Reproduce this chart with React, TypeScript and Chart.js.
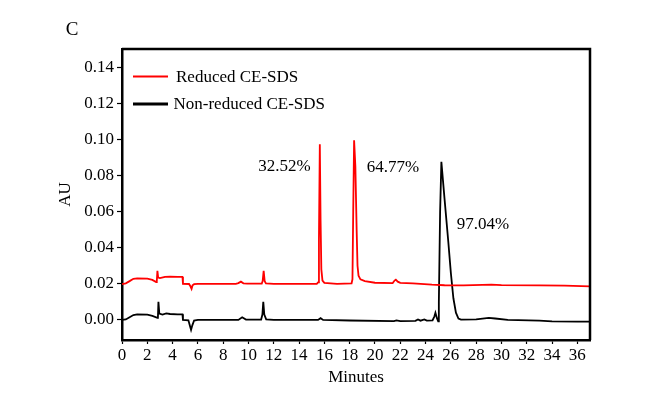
import React, { useEffect, useRef } from "react";
import { Chart, registerables } from "chart.js";

Chart.register(...registerables);

// ---- Data ----
const seriesNames = ["Reduced CE-SDS", "Non-reduced CE-SDS"];

const redTime = [
  0, 0.3, 0.6, 0.9, 1.2, 2.0, 2.4, 2.7, 2.75, 2.8, 2.86, 3.0, 3.4, 3.8, 4.4, 4.78,
  4.82, 5.3, 5.42, 5.5, 5.58, 5.7, 6.0, 9.0, 9.2, 9.4, 9.6, 9.9, 11.05, 11.12,
  11.2, 11.28, 11.38, 12.0, 15.4, 15.5, 15.57, 15.64, 15.7, 15.76, 15.85, 16.0,
  17.0, 18.15, 18.22, 18.28, 18.35, 18.45, 18.55, 18.62, 18.7, 18.85, 19.2, 20.0,
  21.4, 21.55, 21.65, 21.8, 22.0, 23.0, 24.5, 25.5, 27.0, 28.5, 29.2, 30.0, 33.0,
  35.0, 37.0,
];
const redAU = [
  0.0198, 0.0203, 0.0215, 0.0228, 0.023, 0.0229, 0.0222, 0.021, 0.0214, 0.0272,
  0.0235, 0.0232, 0.0238, 0.024, 0.0238, 0.0238, 0.02, 0.0199, 0.0185, 0.0172,
  0.0192, 0.0198, 0.02, 0.02, 0.0204, 0.0212, 0.0203, 0.0201, 0.0201, 0.0215,
  0.0272, 0.0215, 0.0202, 0.02, 0.02, 0.0208, 0.045, 0.0973, 0.055, 0.028, 0.0218,
  0.0205, 0.02, 0.0203, 0.0225, 0.06, 0.0995, 0.085, 0.05, 0.03, 0.0245, 0.0225,
  0.0215, 0.0206, 0.0204, 0.0218, 0.0223, 0.0212, 0.0205, 0.0203, 0.0195, 0.0192,
  0.0191, 0.0194, 0.0196, 0.0193, 0.0191, 0.019, 0.0186,
];

const blackTime = [
  0, 0.3, 0.6, 0.9, 1.2, 2.0, 2.4, 2.8, 2.84, 2.88, 2.95, 3.2, 3.5, 3.8, 4.4, 4.78,
  4.82, 5.25, 5.38, 5.46, 5.56, 5.7, 6.0, 9.2, 9.5, 9.8, 11.0, 11.1, 11.17, 11.25,
  11.4, 12.0, 15.5, 15.7, 15.9, 18.0, 21.5, 21.7, 22.0, 23.2, 23.4, 23.6, 23.9,
  24.1, 24.55, 24.7, 24.78, 24.9, 25.0, 25.05, 25.15, 25.25, 25.5, 25.8, 26.0, 26.2,
  26.4, 26.6, 26.8, 28.0, 29.0, 29.5, 30.5, 33.0, 34.0, 36.0, 37.0,
];
const blackAU = [
  0, 0.0003, 0.0015, 0.0027, 0.0031, 0.0029, 0.0022, 0.0012, 0.0015, 0.01, 0.0035,
  0.003, 0.0036, 0.0033, 0.0031, 0.0031, 0.0, -0.0002, -0.0035, -0.0055, -0.003,
  -0.0003, 0, 0, 0.0015, 0.0002, 0.0002, 0.003, 0.01, 0.003, 0.0003, 0, 0, 0.001,
  0, -0.0003, -0.0006, -0.0002, -0.0006, -0.0005, 0.0003, -0.0004, 0.0003, -0.0004,
  -0.0003, 0.002, 0.004, 0.001, -0.0008, 0.01, 0.06, 0.0875, 0.067, 0.043, 0.026,
  0.012, 0.004, 0.0008, 0.0002, 0.0003, 0.0012, 0.0008, 0, -0.0004, -0.0008,
  -0.0009, -0.0009,
];

const xTicks = [0, 2, 4, 6, 8, 10, 12, 14, 16, 18, 20, 22, 24, 26, 28, 30, 32, 34, 36];
const yTicks = [0, 0.02, 0.04, 0.06, 0.08, 0.1, 0.12, 0.14];

const peakLabels = ["32.52%", "64.77%", "97.04%"];
const peakLabelTime = [12.85, 21.43, 28.54];
const peakLabelAU = [0.085, 0.0843, 0.0528];

const panelLetter = "C";
const xTitle = "Minutes";
const yTitle = "AU";

const FONT = "'Liberation Serif', 'Times New Roman', serif";

const toPoints = (xs: number[], ys: number[]) => xs.map((x, i) => ({ x, y: ys[i] }));

export default function App() {
  const canvasRef = useRef<HTMLCanvasElement | null>(null);

  useEffect(() => {
    const canvas = canvasRef.current;
    if (!canvas) return;

    const decorPlugin = {
      id: "decor",
      afterDraw(chart: any) {
        const { ctx, chartArea } = chart;
        const { left, right, top, bottom } = chartArea;
        ctx.save();
        // frame: top & right
        ctx.strokeStyle = "#000";
        ctx.lineWidth = 2.5;
        ctx.beginPath();
        ctx.moveTo(left, top);
        ctx.lineTo(right, top);
        ctx.lineTo(right, bottom);
        ctx.stroke();

        // legend inside plot
        const colors = ["#ff0000", "#000000"];
        const widths = [2, 3];
        const rowY = [top + 27.5, top + 55];
        ctx.font = `17px ${FONT}`;
        ctx.textBaseline = "middle";
        ctx.textAlign = "left";
        seriesNames.forEach((name, i) => {
          ctx.strokeStyle = colors[i];
          ctx.lineWidth = widths[i];
          ctx.beginPath();
          ctx.moveTo(left + 11, rowY[i]);
          ctx.lineTo(left + 46, rowY[i]);
          ctx.stroke();
          ctx.fillStyle = "#000";
          ctx.fillText(name, left + (i === 0 ? 54 : 51.5), rowY[i] + 1);
        });

        // peak percentage labels
        const xs = chart.scales.x;
        const ys = chart.scales.y;
        ctx.textAlign = "center";
        peakLabels.forEach((t, i) => {
          ctx.fillText(t, xs.getPixelForValue(peakLabelTime[i]), ys.getPixelForValue(peakLabelAU[i]));
        });

        // panel letter
        ctx.font = `19px ${FONT}`;
        ctx.fillText(panelLetter, left - 50, top - 19);
        ctx.restore();
      },
    };

    const chart = new Chart(canvas, {
      type: "line",
      data: {
        datasets: [
          {
            label: seriesNames[0],
            data: toPoints(redTime, redAU),
            borderColor: "#ff0000",
            borderWidth: 1.8,
            pointRadius: 0,
            tension: 0,
            fill: false,
          },
          {
            label: seriesNames[1],
            data: toPoints(blackTime, blackAU),
            borderColor: "#000000",
            borderWidth: 1.8,
            pointRadius: 0,
            tension: 0,
            fill: false,
          },
        ],
      },
      options: {
        responsive: false,
        animation: false,
        events: [],
        layout: { padding: { left: 0, top: 49, right: 74, bottom: 0 } },
        plugins: {
          legend: { display: false },
          tooltip: { enabled: false },
          title: { display: false },
        },
        scales: {
          x: {
            type: "linear",
            min: 0,
            max: 37,
            afterFit: (s: any) => {
              s.height = 57;
            },
            afterBuildTicks: (s: any) => {
              s.ticks = xTicks.map((v) => ({ value: v }));
            },
            ticks: {
              color: "#000",
              font: { family: FONT, size: 17 },
              padding: 1,
              maxRotation: 0,
              autoSkip: false,
              callback: (v: any) => String(v),
            },
            grid: {
              drawOnChartArea: false,
              drawTicks: true,
              tickLength: 4,
              tickWidth: 1.2,
              tickColor: "#000",
            },
            border: { display: true, color: "#000", width: 2.5 },
            title: {
              display: true,
              text: xTitle,
              color: "#000",
              font: { family: FONT, size: 17 },
              padding: { top: 0, bottom: 9 },
            },
          },
          y: {
            type: "linear",
            min: -0.0111,
            max: 0.15,
            afterFit: (s: any) => {
              s.width = 122;
            },
            afterBuildTicks: (s: any) => {
              s.ticks = yTicks.map((v) => ({ value: v }));
            },
            ticks: {
              color: "#000",
              font: { family: FONT, size: 17 },
              padding: 3,
              autoSkip: false,
              callback: (v: any) => Number(v).toFixed(2),
            },
            grid: {
              drawOnChartArea: false,
              drawTicks: true,
              tickLength: 5,
              tickWidth: 1.2,
              tickColor: "#000",
            },
            border: { display: true, color: "#000", width: 2.5 },
            title: {
              display: true,
              text: yTitle,
              color: "#000",
              font: { family: FONT, size: 17 },
              padding: { top: 55, bottom: 0 },
            },
          },
        },
      },
      plugins: [decorPlugin],
    } as any);

    return () => chart.destroy();
  }, []);

  return (
    <div style={{ position: "absolute", left: 0, top: 0, width: 664, height: 397, background: "#fff" }}>
      <canvas ref={canvasRef} width={664} height={397} style={{ display: "block", width: 664, height: 397 }} />
    </div>
  );
}
